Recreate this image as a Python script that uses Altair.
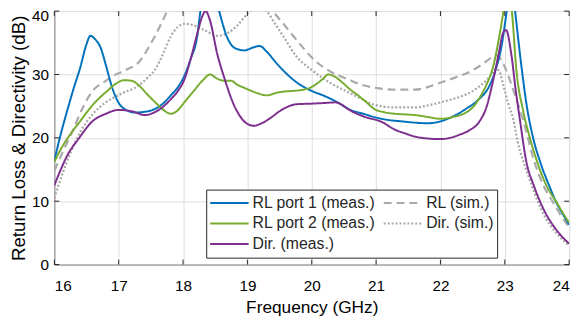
import altair as alt
import pandas as pd

FONT = "Liberation Sans, Arial, Helvetica, sans-serif"
TXT = "#262626"

FREQ_TICKS = [16, 17, 18, 19, 20, 21, 22, 23, 24]
DB_TICKS = [0, 10, 20, 30, 40]

SERIES = ["RL port 1 (meas.)", "RL port 2 (meas.)", "Dir. (meas.)", "RL (sim.)", "Dir. (sim.)"]
COLORS = ["#0072BD", "#77AC30", "#7E2F8E", "#AAAAAA", "#A6A6A6"]
DASHES = [[1, 0], [1, 0], [1, 0], [8, 5], [2, 2]]

rl1_f = [16.0, 16.1, 16.2, 16.3, 16.4, 16.5, 16.56, 16.63, 16.72, 16.8, 16.89, 17.0, 17.1, 17.25,
         17.4, 17.55, 17.7, 17.81, 17.92, 18.02, 18.12, 18.22, 18.27, 18.35, 18.45, 18.56, 18.68,
         18.8, 18.95, 19.1, 19.19, 19.3, 19.45, 19.6, 19.8, 20.0, 20.2, 20.4, 20.6, 20.8, 21.0,
         21.2, 21.4, 21.6, 21.8, 22.0, 22.2, 22.4, 22.6, 22.75, 22.85, 22.95, 23.03, 23.1, 23.16,
         23.25, 23.35, 23.44, 23.56, 23.7, 23.8, 23.9, 24.0]
rl1_db = [16.4, 20.6, 24.3, 27.8, 31.0, 34.8, 36.1, 35.6, 34.2, 31.5, 28.2, 25.5, 24.5, 24.0,
          24.1, 24.5, 25.5, 26.7, 28.0, 29.8, 32.5, 36.0, 40.0, 44.0, 44.0, 40.0, 36.0,
          34.2, 33.8, 34.3, 34.5, 33.6, 31.8, 30.2, 28.5, 27.4, 26.6, 25.6, 24.4, 23.8, 23.2,
          22.8, 22.6, 22.4, 22.3, 22.6, 23.4, 24.6, 26.1, 28.0, 30.5, 34.5, 40.0, 45.0, 40.0,
          32.0, 24.5, 20.0, 15.9, 12.2, 9.8, 8.0, 6.3]

rl2_f = [16.0, 16.1, 16.23, 16.4, 16.54, 16.7, 16.8, 16.95, 17.08, 17.2, 17.3, 17.45, 17.61,
         17.72, 17.81, 17.9, 18.02, 18.15, 18.3, 18.42, 18.52, 18.64, 18.75, 18.84, 18.95,
         19.04, 19.17, 19.3, 19.45, 19.56, 19.7, 19.87, 19.95, 20.06, 20.16, 20.26, 20.35,
         20.48, 20.6, 20.72, 20.85, 20.98, 21.1, 21.29, 21.45, 21.6, 21.8, 22.0, 22.2, 22.36,
         22.5, 22.63, 22.72, 22.82, 22.93, 22.98, 23.04, 23.11, 23.18, 23.28, 23.39, 23.5,
         23.65, 23.8, 23.9, 24.0]
rl2_db = [16.2, 18.2, 20.3, 22.6, 24.5, 26.3, 27.2, 28.5, 29.1, 29.0, 28.4, 26.8, 25.2,
          24.2, 23.8, 24.2, 25.6, 27.2, 29.0, 30.0, 29.4, 29.0, 29.0, 28.4, 27.9,
          27.5, 27.0, 26.7, 27.1, 27.3, 27.4, 27.6, 27.8, 28.4, 29.2, 30.0, 29.7,
          28.7, 27.6, 26.7, 25.6, 24.5, 24.1, 23.8, 23.7, 23.6, 23.3, 23.0, 23.3, 23.8,
          24.8, 26.7, 28.5, 31.3, 36.9, 40.0, 44.0, 40.0, 30.7, 24.5, 20.0, 16.3,
          12.4, 9.9, 8.2, 6.6]

dir_f = [16.0, 16.1, 16.2, 16.38, 16.58, 16.8, 17.0, 17.2, 17.41, 17.55, 17.7, 17.81, 17.92,
         18.02, 18.12, 18.22, 18.3, 18.35, 18.42, 18.53, 18.64, 18.79, 18.9, 19.0, 19.1, 19.2,
         19.34, 19.5, 19.76, 20.0, 20.2, 20.37, 20.47, 20.57, 20.8, 21.09, 21.29, 21.45, 21.6,
         21.8, 22.0, 22.15, 22.3, 22.45, 22.6, 22.72, 22.8, 22.9, 22.98, 23.02, 23.1, 23.17,
         23.24, 23.33, 23.45, 23.6, 23.8, 24.0]
dir_db = [12.5, 15.0, 17.2, 19.9, 22.5, 23.8, 24.4, 24.2, 23.6, 24.0, 25.0, 26.1, 27.4,
          29.2, 32.5, 36.4, 39.2, 40.0, 38.5, 33.3, 29.5, 25.2, 23.2, 22.2, 21.9, 22.2,
          23.0, 24.2, 25.3, 25.4, 25.5, 25.6, 25.2, 24.5, 23.4, 22.5, 21.3, 20.7, 20.2,
          19.9, 19.8, 20.0, 20.5, 21.2, 22.5, 25.0, 28.2, 33.0, 36.7, 37.0, 33.3, 27.5,
          22.5, 16.5, 12.5, 8.8, 5.5, 3.3]

rlsim_f = [16.0, 16.14, 16.28, 16.43, 16.58, 16.8, 16.92, 17.0, 17.15, 17.3, 17.45, 17.56,
           17.65, 17.73, 17.85, 18.0, 18.3, 18.6, 19.0, 19.25, 19.4, 19.56, 19.8, 20.06, 20.3,
           20.57, 20.8, 20.98, 21.3, 21.6, 21.8, 22.0, 22.25, 22.47, 22.65, 22.8, 22.87, 22.95,
           23.02, 23.15, 23.28, 23.47, 23.6, 23.74, 23.87, 24.0]
rlsim_db = [14.8, 18.0, 21.0, 24.5, 27.2, 29.0, 29.8, 30.2, 30.9, 31.8, 34.0, 36.0,
            37.8, 39.5, 42.0, 44.0, 46.0, 46.0, 45.0, 42.5, 40.0, 38.0, 35.0, 32.1, 30.4,
            29.2, 28.3, 27.9, 27.6, 27.6, 28.0, 28.7, 29.6, 30.5, 31.6, 32.7, 33.0, 32.2,
            30.7, 27.0, 23.0, 15.9, 12.5, 10.0, 7.8, 5.9]

dirsim_f = [16.0, 16.15, 16.38, 16.6, 16.8, 17.05, 17.3, 17.45, 17.56, 17.7, 17.81, 17.92,
            18.02, 18.15, 18.33, 18.53, 18.7, 18.84, 18.95, 19.04, 19.15, 19.3, 19.43, 19.56,
            19.75, 20.0, 20.3, 20.57, 20.8, 20.98, 21.3, 21.6, 21.8, 22.0, 22.25, 22.47, 22.65,
            22.78, 22.86, 22.92, 22.98, 23.05, 23.13, 23.2, 23.35, 23.59, 23.8, 24.0]
dirsim_db = [10.5, 15.0, 20.5, 23.8, 25.6, 27.0, 28.2, 29.5, 30.7, 33.5, 36.0, 37.5,
             38.0, 37.8, 37.0, 36.1, 36.6, 37.7, 39.0, 40.0, 41.0, 40.0, 38.0, 36.0,
             33.0, 30.7, 28.6, 27.2, 26.0, 25.2, 24.8, 24.8, 25.1, 25.6, 26.3, 27.2, 28.5,
             29.8, 30.9, 30.4, 28.2, 25.5, 23.0, 19.4, 14.5, 8.2, 5.0, 3.0]

rows = []
for name, fs, vs in [("RL port 1 (meas.)", rl1_f, rl1_db),
                     ("RL port 2 (meas.)", rl2_f, rl2_db),
                     ("Dir. (meas.)", dir_f, dir_db),
                     ("RL (sim.)", rlsim_f, rlsim_db),
                     ("Dir. (sim.)", dirsim_f, dirsim_db)]:
    for f, v in zip(fs, vs):
        rows.append({"freq": f, "val": v, "series": name})
df = pd.DataFrame(rows)

W, H = 522, 257

x_scale = alt.Scale(domain=[16, 24], nice=False, zero=False)
y_scale = alt.Scale(domain=[0, 40], nice=False)

x_enc = alt.X("freq:Q", scale=x_scale,
              axis=alt.Axis(values=FREQ_TICKS, format="d", title="Frequency (GHz)", grid=True,
                            ticks=False, labelPadding=14, labelFontSize=15.5,
                            titleFontSize=17.5, titleY=49, titleBaseline="alphabetic",
                            titleFontWeight="normal"))
y_enc = alt.Y("val:Q", scale=y_scale,
              axis=alt.Axis(values=DB_TICKS, format="d", title="Return Loss & Directivity (dB)",
                            grid=True, ticks=False, labelPadding=6, labelFontSize=15.5,
                            labelOffset={"condition": {"test": "datum.value === 40", "value": 5},
                                         "value": 0},
                            titleFontSize=19, titleX=-30, titleY=H / 2,
                            titleBaseline="alphabetic", titleAlign="center",
                            titleFontWeight="normal"))

legend_kw = dict(title=None, orient="none", legendX=154, legendY=181,
                 columns=2, symbolType="stroke", symbolSize=1521,
                 symbolStrokeWidth=2, clipHeight=20.5, rowPadding=0,
                 columnPadding=7, labelOffset=3, labelFontSize=16,
                 labelFont=FONT, labelColor=TXT, padding=3,
                 strokeColor="#262626", fillColor="white",
                 cornerRadius=0, labelLimit=300)
color_enc = alt.Color("series:N", scale=alt.Scale(domain=SERIES, range=COLORS),
                      legend=alt.Legend(**legend_kw))
dash_enc = alt.StrokeDash("series:N", scale=alt.Scale(domain=SERIES, range=DASHES),
                          legend=alt.Legend(**legend_kw))

base = alt.Chart(df)
draw_order = ["RL (sim.)", "Dir. (sim.)", "RL port 1 (meas.)", "RL port 2 (meas.)", "Dir. (meas.)"]
layers = []
for name in draw_order:
    sw = 2.2 if "sim" in name else 2.0
    layers.append(
        base.transform_filter(alt.datum.series == name)
        .mark_line(interpolate="monotone", clip=True, strokeWidth=sw)
        .encode(x=x_enc, y=y_enc, color=color_enc, strokeDash=dash_enc,
                detail="series:N")
    )

# inward tick marks (MATLAB style box ticks)
xt = pd.DataFrame({"t": FREQ_TICKS})
yt = pd.DataFrame({"t": DB_TICKS})
tick_style = dict(color=TXT, strokeWidth=1)
xtb = alt.Chart(xt).mark_rule(**tick_style).encode(
    x=alt.X("t:Q", scale=x_scale), y=alt.value(H - 5), y2=alt.value(H))
xtt = alt.Chart(xt).mark_rule(**tick_style).encode(
    x=alt.X("t:Q", scale=x_scale), y=alt.value(0), y2=alt.value(5))
ytl = alt.Chart(yt).mark_rule(**tick_style).encode(
    y=alt.Y("t:Q", scale=y_scale), x=alt.value(0), x2=alt.value(5))
ytr = alt.Chart(yt).mark_rule(**tick_style).encode(
    y=alt.Y("t:Q", scale=y_scale), x=alt.value(W - 5), x2=alt.value(W))

chart = alt.layer(*layers, xtb, xtt, ytl, ytr).properties(
    width=W, height=H,
    autosize=alt.AutoSizeParams(type="none"),
    padding={"left": 47, "top": 1, "right": 10, "bottom": 50},
).configure_view(
    stroke=TXT, strokeWidth=1
).configure_axis(
    labelFont=FONT, titleFont=FONT, labelColor=TXT, titleColor=TXT,
    domainColor=TXT, gridColor="#e2e2e2", gridWidth=1
).configure(background="white")

chart.save("out.html", embed_options={"renderer": "svg", "actions": False})
